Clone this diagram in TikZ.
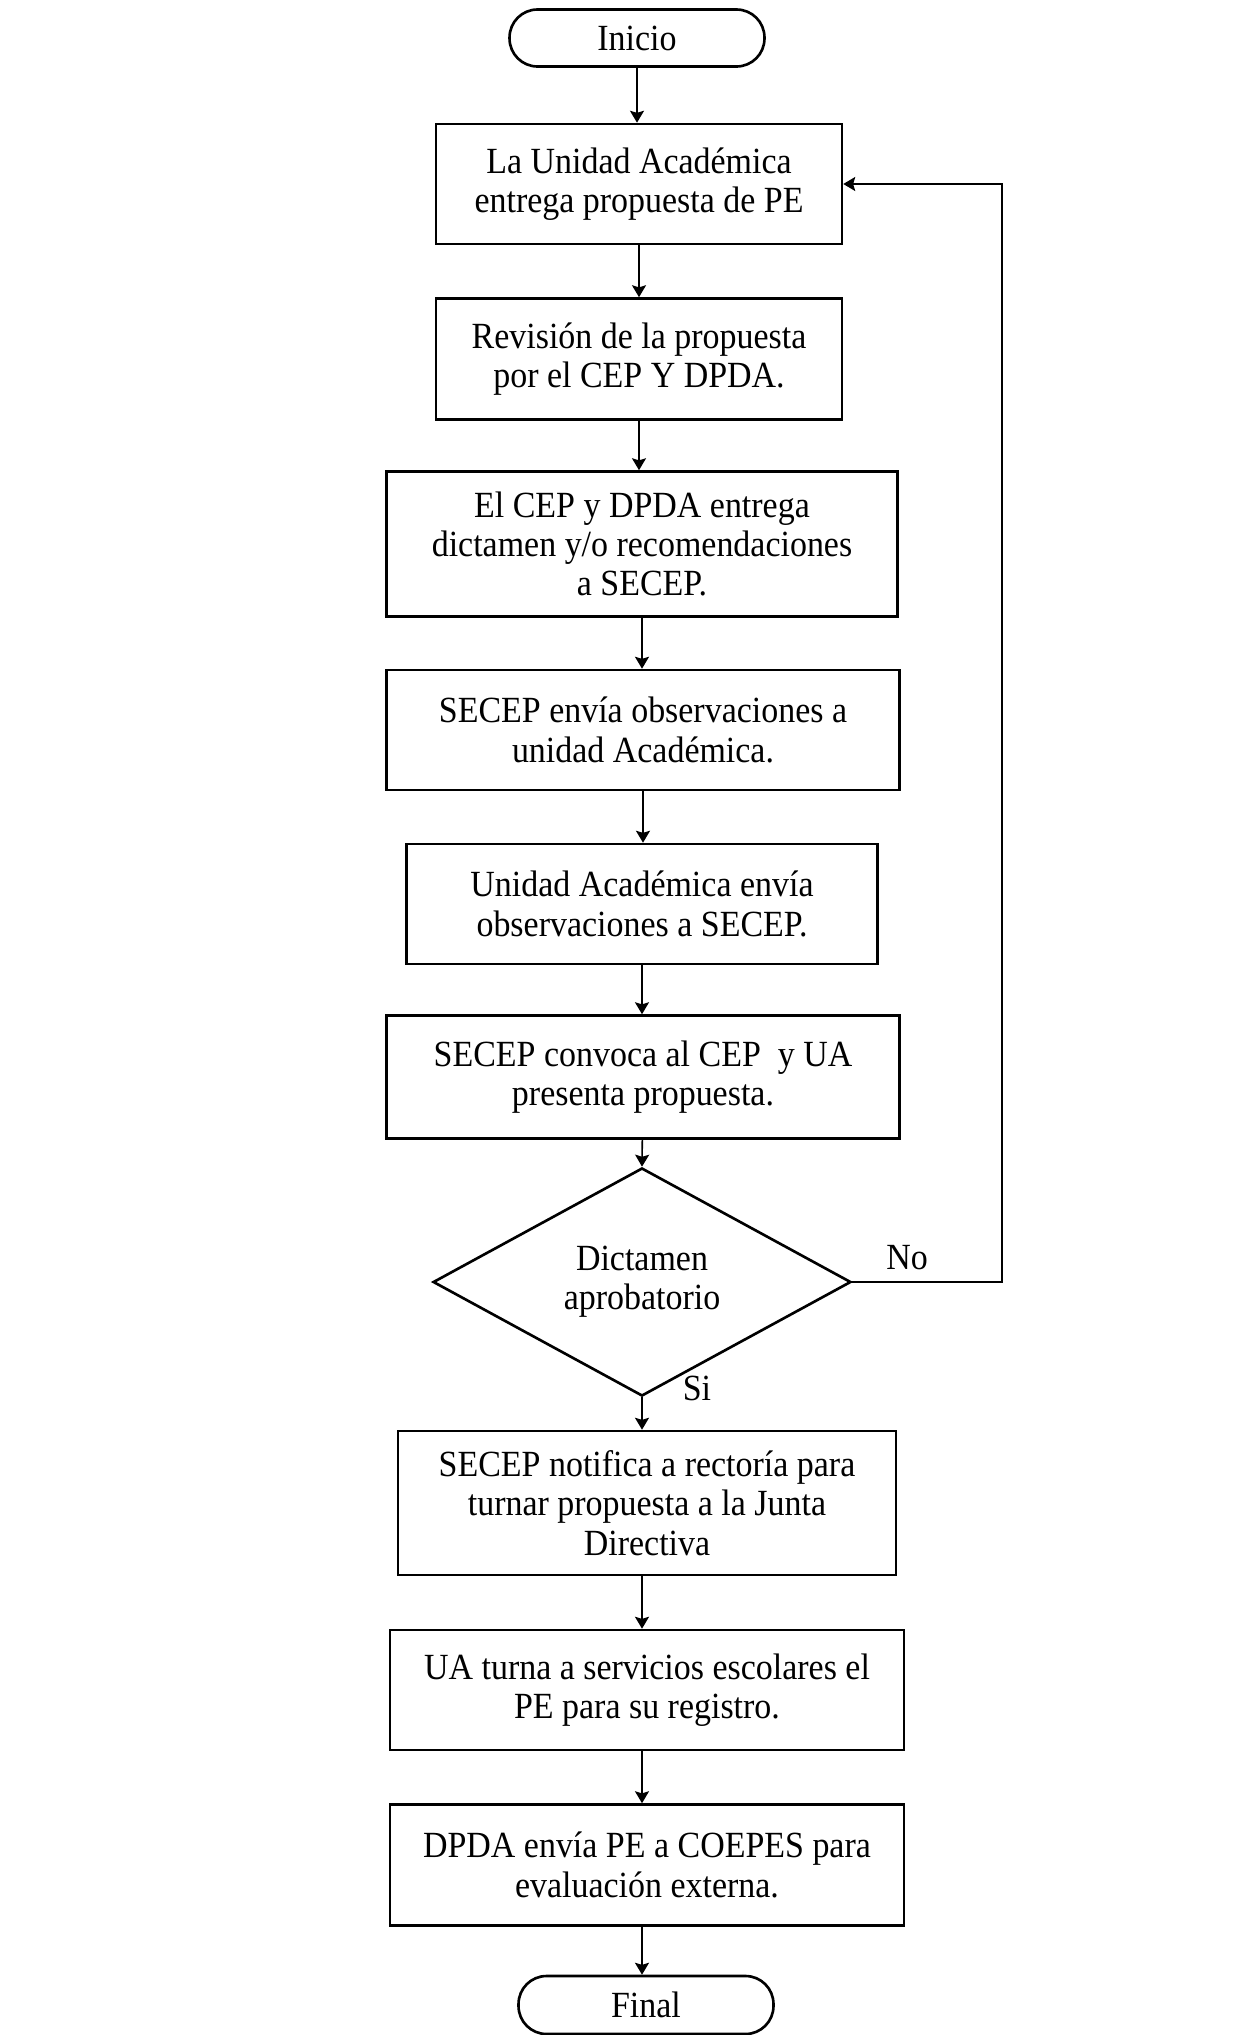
\documentclass[tikz,border=0pt]{standalone}
\usepackage{fontspec}
\setmainfont{Liberation Serif}[FakeStretch=0.92]
\usepackage{tikz}
\usetikzlibrary{calc,positioning,arrows.meta,shapes.geometric}

\tikzset{
    paso/.style={draw=black, line width=1.5pt, fill=white, align=center, inner sep=2pt},
    terminal/.style={paso, rounded corners=0.56cm, minimum width=5.1cm, minimum height=1.14cm},
    decision/.style={draw=black, line width=1.5pt, diamond, align=center, inner sep=0pt, minimum width=8.36cm, minimum height=3.66cm},
    flecha/.style={draw=black, line width=0.9pt, -{Stealth[length=6.8pt, width=8pt, inset=1.2pt]}},
    etiqueta/.style={inner sep=0pt}
}

\begin{document}
\begin{tikzpicture}[x=0.02cm, y=-0.02cm, font=\fontsize{21}{22.4}\selectfont]
        \useasboundingbox (0,0) rectangle (1240,2035);
        \node[terminal] (inicio) at (637,38) {Inicio};
        \node[paso, minimum width=8.12cm, minimum height=2.4cm] (entrega) at (639,184) {La Unidad Académica\\entrega propuesta de PE};
        \node[paso, minimum width=8.12cm, minimum height=2.42cm] (revision) at (639,359) {Revisión de la propuesta\\por el CEP Y DPDA.};
        \node[paso, minimum width=10.22cm, minimum height=2.9cm] (dictamen) at (642,544) {El CEP y DPDA entrega\\dictamen y/o recomendaciones\\a SECEP.};
        \node[paso, minimum width=10.26cm, minimum height=2.4cm] (envia) at (643,730) {SECEP envía observaciones a\\unidad Académica.};
        \node[paso, minimum width=9.42cm, minimum height=2.4cm] (unidad) at (642,904) {Unidad Académica envía\\observaciones a SECEP.};
        \node[paso, minimum width=10.26cm, minimum height=2.46cm] (convoca) at (643,1077) {SECEP convoca al CEP\ \ y UA\\presenta propuesta.};
        \node[decision] (aprob) at (642,1282) {Dictamen\\aprobatorio};
        \node[paso, minimum width=9.96cm, minimum height=2.88cm] (notifica) at (647,1503) {SECEP notifica a rectoría para\\turnar propuesta a la Junta\\Directiva};
        \node[paso, minimum width=10.28cm, minimum height=2.4cm] (turna) at (647,1690) {UA turna a servicios escolares el\\PE para su registro.};
        \node[paso, minimum width=10.28cm, minimum height=2.42cm] (coepes) at (647,1865) {DPDA envía PE a COEPES para\\evaluación externa.};
        \node[terminal, minimum height=1.16cm] (final) at (646,2005) {Final};
        \coordinate (regreso) at (1002,1282);

        \draw[flecha] (inicio) -- (inicio |- entrega.north);
        \draw[flecha] (entrega) -- (entrega |- revision.north);
        \draw[flecha] (revision) -- (revision |- dictamen.north);
        \draw[flecha] (dictamen) -- (dictamen |- envia.north);
        \draw[flecha] (envia) -- (envia |- unidad.north);
        \draw[flecha] (unidad) -- (unidad |- convoca.north);
        \draw[flecha] (convoca) -- (aprob.north);
        \draw[flecha] (aprob.south) -- (aprob.south |- notifica.north);
        \draw[flecha] (aprob.south |- notifica.south) -- (aprob.south |- turna.north);
        \draw[flecha] (aprob.south |- turna.south) -- (aprob.south |- coepes.north);
        \draw[flecha] (aprob.south |- coepes.south) -- (aprob.south |- final.north);
        \draw[flecha] (aprob.east) -- (regreso) |- (entrega.east);

        \node[etiqueta] (no) at (907,1258) {No};
        \node[etiqueta] (si) at (697,1388) {Si};
    \end{tikzpicture}
\end{document}
